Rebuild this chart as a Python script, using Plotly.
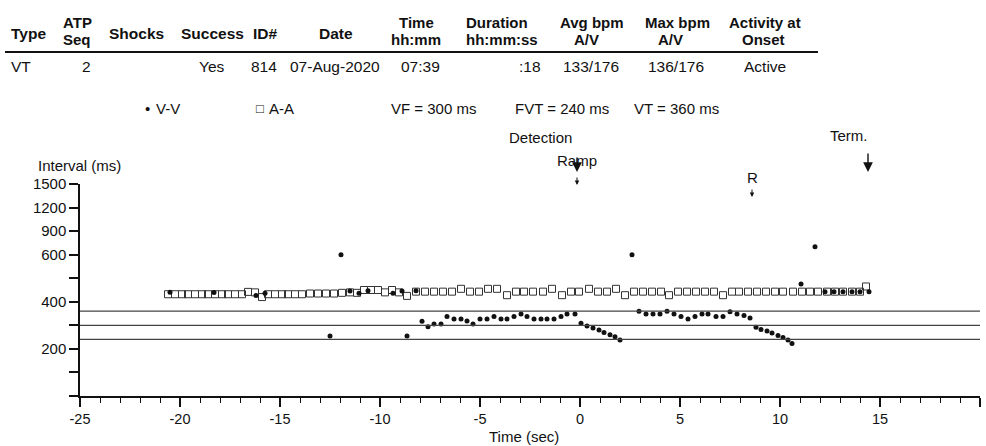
import plotly.graph_objects as go

# ---- episode data ----
# A-A intervals: time (sec) and interval (ms)
aa_time = [-20.6, -20.25, -19.9, -19.6, -19.25, -18.9, -18.6, -18.25, -17.9, -17.6, -17.25,
           -16.9, -16.6, -16.25, -15.9, -15.6, -15.25, -14.9, -14.6, -14.25, -13.9,
           -13.5, -13.1, -12.7, -12.3, -11.9, -11.5, -11.15, -10.8, -10.45, -10.1, -9.75,
           -9.4, -9.05, -8.65,
           -8.2, -7.75, -7.3, -6.85, -6.4, -5.95, -5.5, -5.05, -4.6, -4.15, -3.65, -3.2,
           -2.8, -2.35, -1.85, -1.4, -0.9, -0.45, -0.05, 0.45, 0.9, 1.35, 1.8, 2.25, 2.7,
           3.15, 3.6, 4.05, 4.45, 4.9, 5.35, 5.8, 6.25, 6.7, 7.15, 7.6, 7.95, 8.4, 8.85,
           9.3, 9.75, 10.15, 10.65, 11.1, 11.5, 11.9, 12.35, 12.75, 13.15, 13.6, 14.0, 14.3]
aa_interval = [432, 432, 432, 432, 432, 432, 432, 432, 432, 432, 432,
               432, 442, 440, 420, 432, 432, 432, 432, 432, 432,
               435, 435, 435, 435, 438, 440, 438, 450, 450, 450, 440,
               450, 440, 425,
               443, 443, 443, 443, 443, 455, 443, 443, 455, 455, 428, 443,
               443, 443, 443, 455, 428, 443, 443, 455, 443, 443, 455, 428, 443,
               443, 443, 443, 428, 443, 443, 443, 443, 443, 428, 443, 443, 443, 443,
               443, 443, 443, 443, 443, 443, 443, 443, 443, 443, 443, 443, 465]

# V-V intervals
vv_time = [-20.5, -18.3, -16.2, -15.75, -12.5, -11.95, -11.5, -11.05, -10.6, -9.35,
           -8.9, -8.65, -8.2, -7.9, -7.6, -7.3, -6.95, -6.65, -6.3, -5.95, -5.65, -5.35,
           -5.0, -4.65, -4.3, -3.95, -3.65, -3.3, -2.95, -2.65, -2.3, -1.95, -1.65, -1.3,
           -0.95, -0.65, -0.25,
           0.05, 0.35, 0.65, 0.95, 1.2, 1.5, 1.75, 2.0,
           2.6,
           2.95, 3.3, 3.65, 4.0, 4.35, 4.7, 5.05, 5.4, 5.75, 6.1, 6.4, 6.8, 7.15, 7.5,
           7.85, 8.2, 8.5,
           8.8, 9.05, 9.35, 9.6, 9.9, 10.15, 10.4, 10.6,
           11.05, 11.75,
           12.25, 12.7, 13.15, 13.6, 14.0, 14.45]
vv_interval = [440, 439, 427, 436, 255, 600, 446, 436, 447, 436,
               446, 255, 447, 317, 294, 306, 306, 337, 327, 327, 318, 306,
               327, 327, 337, 327, 327, 337, 348, 337, 327, 327, 327, 327,
               337, 348, 348,
               309, 297, 289, 280, 270, 260, 252, 238,
               600,
               360, 348, 348, 348, 360, 348, 337, 327, 337, 348, 348, 337, 337, 358,
               348, 342, 331,
               292, 282, 276, 267, 257, 248, 238, 223,
               476, 702,
               443, 443, 443, 443, 443, 443]

zone_names = ['VF', 'FVT', 'VT']
zone_ms = [300, 240, 360]

ytick_ms = [0, 100, 200, 300, 400, 500, 600, 900, 1200, 1500]
ytick_text = ['', '', '200', '', '400', '', '600', '900', '1200', '1500']
xtick_sec = [-25, -20, -15, -10, -5, 0, 5, 10, 15, 20]
xtick_text = ['-25', '-20', '-15', '-10', '-5', '0', '5', '10', '15', '20']

event_names = ['Detection', 'Ramp', 'R', 'Term.']
event_time = [-0.15, -0.15, 8.6, 14.4]

header_single = ['Type', 'Shocks', 'Success', 'ID#', 'Date']
header_single_x = [10, 136, 212, 265, 336]
header_top = ['ATP', 'Time', 'Duration', 'Avg bpm', 'Max bpm', 'Activity at']
header_top_x = [77, 416, 497, 592, 677, 765]
header_bottom = ['Seq', 'hh:mm', 'hh:mm:ss', 'A/V', 'A/V', 'Onset']
header_bottom_x = [77, 416, 502, 586, 670, 763]
row_values = ['VT', '2', 'Yes', '814', '07-Aug-2020', '07:39', ':18', '133/176', '136/176', 'Active']
row_x = [10, 86, 212, 264, 335, 420, 542, 591, 676, 765]
row_anchor = ['left', 'center', 'center', 'center', 'center', 'center', 'right', 'center', 'center', 'center']

FONT = 'Liberation Sans, Arial, sans-serif'
W, H = 986, 446
L, R, T, B = 80, 6, 184, 50


def scale_ms(v):
    # printout uses 100 ms steps up to 600, then 300 ms steps
    return v / 100.0 if v <= 600 else 6 + (v - 600) / 300.0


def px(x):
    return (x - L) / (W - L - R)


def py(y):
    return (H - B - y) / (H - T - B)


fig = go.Figure()

fig.add_trace(go.Scatter(
    x=aa_time, y=[scale_ms(v) for v in aa_interval],
    mode='markers', name='A-A',
    marker=dict(symbol='square-open', size=7, color='#333', line=dict(width=1, color='#333')),
    showlegend=False
))
fig.add_trace(go.Scatter(
    x=vv_time, y=[scale_ms(v) for v in vv_interval],
    mode='markers', name='V-V',
    marker=dict(symbol='circle', size=5, color='#111'),
    showlegend=False
))

# detection zone lines
for v in zone_ms:
    fig.add_shape(type='line', xref='paper', x0=0, x1=1, yref='y',
                  y0=scale_ms(v), y1=scale_ms(v), line=dict(color='#444', width=1.2))

ann = []


def txt(s, x, y, anchor='center', size=15, bold=False):
    ann.append(dict(text='<b>%s</b>' % s if bold else s, x=px(x), y=py(y),
                    xref='paper', yref='paper', xanchor=anchor, yanchor='middle',
                    showarrow=False, borderpad=0,
                    font=dict(family=FONT, size=size, color='#111')))


# header table
for s, x in zip(header_single, header_single_x):
    txt(s, x, 33, 'left' if s == 'Type' else 'center', 15.5, True)
for s, x in zip(header_top, header_top_x):
    txt(s, x, 22.5, 'center', 15, True)
for s, x in zip(header_bottom, header_bottom_x):
    txt(s, x, 39.5, 'center', 15, True)
for s, x, a in zip(row_values, row_x, row_anchor):
    txt(s, x, 66.5, a, 15.5)
fig.add_shape(type='line', xref='paper', yref='paper', x0=px(5), x1=px(818),
              y0=py(52), y1=py(52), line=dict(color='#111', width=2))

# legend row
txt('•', 147, 108, 'center', 15)
txt('V-V', 155, 108, 'left', 15)
txt('□', 260, 108, 'center', 13)
txt('A-A', 268, 108, 'left', 15)
for n, v, x in zip(zone_names, zone_ms, [390, 514, 633]):
    txt('%s = %d ms' % (n, v), x, 108, 'left', 15)

# axis titles
txt('Interval (ms)', 37, 165, 'left', 15)
txt('Time (sec)', 524, 436, 'center', 15)

# event labels and arrows
txt(event_names[0], 540, 137)
txt(event_names[1], 577, 160)
txt(event_names[2], 752, 177)
txt(event_names[3], 849, 135)


def arrow(t, tip, tail, size, width):
    ann.append(dict(text='', x=t, xref='x', y=py(tip), yref='paper', ax=0, ay=-(tip - tail),
                    showarrow=True, arrowhead=2, arrowsize=size, arrowwidth=width,
                    arrowcolor='#111'))


arrow(event_time[0], 172, 156, 1.4, 1.4)
arrow(event_time[1], 185, 176, 0.9, 1)
arrow(event_time[2], 197, 188, 0.9, 1)
arrow(event_time[3], 172, 152, 1.4, 1.4)

fig.update_layout(
    width=W, height=H,
    margin=dict(l=L, r=R, t=T, b=B, autoexpand=False),
    paper_bgcolor='white', plot_bgcolor='white',
    annotations=ann,
    font=dict(family=FONT, size=15, color='#111'),
    xaxis=dict(range=[-25, 20], tickvals=xtick_sec, ticktext=xtick_text, automargin=False,
               showgrid=False, zeroline=False, showline=True, linecolor='#111', linewidth=1.5,
               ticks='outside', ticklen=9, tickwidth=1.5, tickcolor='#111',
               tickfont=dict(family=FONT, size=14.5, color='#111'),
               minor=dict(dtick=1, ticks='outside', ticklen=5, tickwidth=1.2, tickcolor='#111')),
    yaxis=dict(range=[0, 9], tickvals=[scale_ms(v) for v in ytick_ms], ticktext=ytick_text,
               automargin=False,
               showgrid=False, zeroline=False, showline=True, linecolor='#111', linewidth=1.5,
               ticks='outside', ticklen=9, tickwidth=1.5, tickcolor='#111',
               tickfont=dict(family=FONT, size=15, color='#111')),
)

# the page body has a default 8px margin; drop it so the figure sits at the window origin
fig.write_html('out.html', config={'displayModeBar': False},
               post_script="document.body.style.margin='0';")
